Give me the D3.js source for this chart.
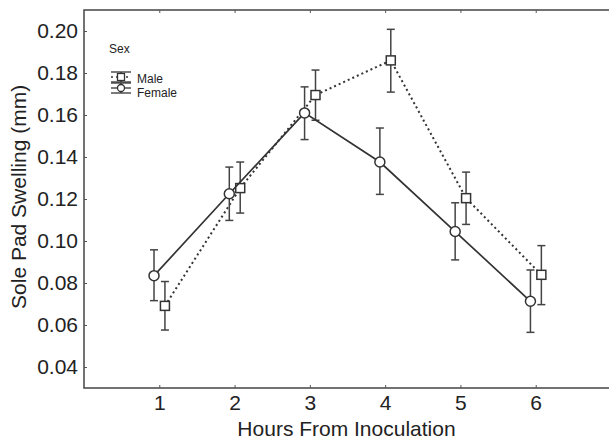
<!DOCTYPE html>
<html lang="en">
<head>
<meta charset="UTF-8">
<title>Sole Pad Swelling</title>
<script src="https://d3js.org/d3.v7.min.js"></script>
<style>
  body { margin: 0; background: #fff; }
  text { font-family: "Liberation Sans", Arial, sans-serif; fill: #222; }
</style>
</head>
<body>
<svg width="609" height="440"></svg>
<script>
  // data
  var hours = [1, 2, 3, 4, 5, 6];
  var femaleMean = [0.0835, 0.1225, 0.161, 0.1376, 0.1045, 0.0713];
  var femaleLow  = [0.0716, 0.1098, 0.1483, 0.1222, 0.0910, 0.0565];
  var femaleHigh = [0.0958, 0.1352, 0.1734, 0.1538, 0.1182, 0.0862];
  var maleMean = [0.0691, 0.1252, 0.1695, 0.1860, 0.1204, 0.0839];
  var maleLow  = [0.0576, 0.1133, 0.1575, 0.1709, 0.1079, 0.0697];
  var maleHigh = [0.0807, 0.1376, 0.1814, 0.2008, 0.1328, 0.0978];
  var yTicks = [0.04, 0.06, 0.08, 0.10, 0.12, 0.14, 0.16, 0.18, 0.20];

  var svg = d3.select("svg");
  var plotLeft = 84, plotTop = 10, plotBottom = 388, plotRight = 611;

  var x = d3.scaleLinear().domain([0, 7]).range([plotLeft, plotRight]);
  var y = d3.scaleLinear().domain([0.03, 0.21]).range([plotBottom, plotTop]);

  // frame (right side runs off the page)
  svg.append("path")
    .attr("d", "M" + plotRight + "," + plotTop + "H" + plotLeft + "V" + plotBottom + "H" + plotRight)
    .attr("fill", "none").attr("stroke", "#444").attr("stroke-width", 1.5);

  // axes, ticks pointing inside
  var xAxis = svg.append("g").attr("transform", "translate(0," + plotBottom + ")")
    .call(d3.axisBottom(x).tickValues(hours).tickSize(-3).tickPadding(7).tickFormat(d3.format("d")));
  var xTop = svg.append("g").attr("transform", "translate(0," + plotTop + ")")
    .call(d3.axisTop(x).tickValues(hours).tickSize(-3).tickFormat(""));
  var yAxis = svg.append("g").attr("transform", "translate(" + plotLeft + ",0)")
    .call(d3.axisLeft(y).tickValues(yTicks).tickSize(-3).tickPadding(6).tickFormat(d3.format(".2f")));
  [xAxis, xTop, yAxis].forEach(function (g) {
    g.select(".domain").remove();
    g.selectAll(".tick line").attr("stroke", "#555");
    g.selectAll("text").style("font-size", "21px").attr("fill", "#222");
  });

  // axis titles
  svg.append("text").attr("x", x(3.5) - 1).attr("y", 436).attr("text-anchor", "middle")
    .style("font-size", "21px").text("Hours From Inoculation");
  svg.append("text").attr("transform", "translate(26," + y(0.121) + ") rotate(-90)")
    .attr("text-anchor", "middle").style("font-size", "21px").text("Sole Pad Swelling (mm)");

  var series = [
    { name: "Male", mean: maleMean, low: maleLow, high: maleHigh, off: 0.075, dash: "2,3", shape: "square" },
    { name: "Female", mean: femaleMean, low: femaleLow, high: femaleHigh, off: -0.07, dash: null, shape: "circle" }
  ];

  var line = d3.line().x(function (d) { return d.x; }).y(function (d) { return d.y; });
  var ink = "#333";

  series.forEach(function (s) {
    var pts = hours.map(function (h, i) {
      return { x: x(h + s.off), y: y(s.mean[i]), lo: y(s.low[i]), hi: y(s.high[i]) };
    });
    var g = svg.append("g");
    g.append("path").datum(pts).attr("d", line).attr("fill", "none")
      .attr("stroke", ink).attr("stroke-width", s.dash ? 2 : 1.7)
      .attr("stroke-dasharray", s.dash);
    var eb = g.selectAll(".eb").data(pts).enter().append("g").attr("stroke", "#444").attr("stroke-width", 1.5);
    eb.append("line").attr("x1", function (d) { return d.x; }).attr("x2", function (d) { return d.x; })
      .attr("y1", function (d) { return d.lo; }).attr("y2", function (d) { return d.hi; });
    eb.append("line").attr("x1", function (d) { return d.x - 4; }).attr("x2", function (d) { return d.x + 4; })
      .attr("y1", function (d) { return d.lo; }).attr("y2", function (d) { return d.lo; });
    eb.append("line").attr("x1", function (d) { return d.x - 4; }).attr("x2", function (d) { return d.x + 4; })
      .attr("y1", function (d) { return d.hi; }).attr("y2", function (d) { return d.hi; });
    if (s.shape === "circle") {
      g.selectAll(".m").data(pts).enter().append("circle")
        .attr("cx", function (d) { return d.x; }).attr("cy", function (d) { return d.y; }).attr("r", 5)
        .attr("fill", "#fff").attr("stroke", ink).attr("stroke-width", 1.5);
    } else {
      g.selectAll(".m").data(pts).enter().append("rect")
        .attr("x", function (d) { return d.x - 4.5; }).attr("y", function (d) { return d.y - 4.5; })
        .attr("width", 9).attr("height", 9)
        .attr("fill", "#fff").attr("stroke", ink).attr("stroke-width", 1.5);
    }
  });

  // legend
  var lg = svg.append("g");
  lg.append("text").attr("x", 109).attr("y", 53).style("font-size", "12px").text("Sex");
  series.forEach(function (s, i) {
    var cy = 77 + i * 11, cx = 121;
    var it = lg.append("g").attr("stroke", ink).attr("stroke-width", 1.3);
    it.append("line").attr("x1", cx - 10).attr("x2", cx + 10).attr("y1", cy).attr("y2", cy)
      .attr("stroke-dasharray", s.dash);
    it.append("line").attr("x1", cx).attr("x2", cx).attr("y1", cy - 5).attr("y2", cy + 5);
    it.append("line").attr("x1", cx - 10).attr("x2", cx + 10).attr("y1", cy - 5).attr("y2", cy - 5);
    it.append("line").attr("x1", cx - 10).attr("x2", cx + 10).attr("y1", cy + 5).attr("y2", cy + 5);
    if (s.shape === "circle") {
      it.append("circle").attr("cx", cx).attr("cy", cy).attr("r", 3.5).attr("fill", "#fff");
    } else {
      it.append("rect").attr("x", cx - 3.5).attr("y", cy - 3.5).attr("width", 7).attr("height", 7).attr("fill", "#fff");
    }
    lg.append("text").attr("x", 137).attr("y", 83 + i * 14).style("font-size", "12px").text(s.name);
  });
</script>
</body>
</html>
